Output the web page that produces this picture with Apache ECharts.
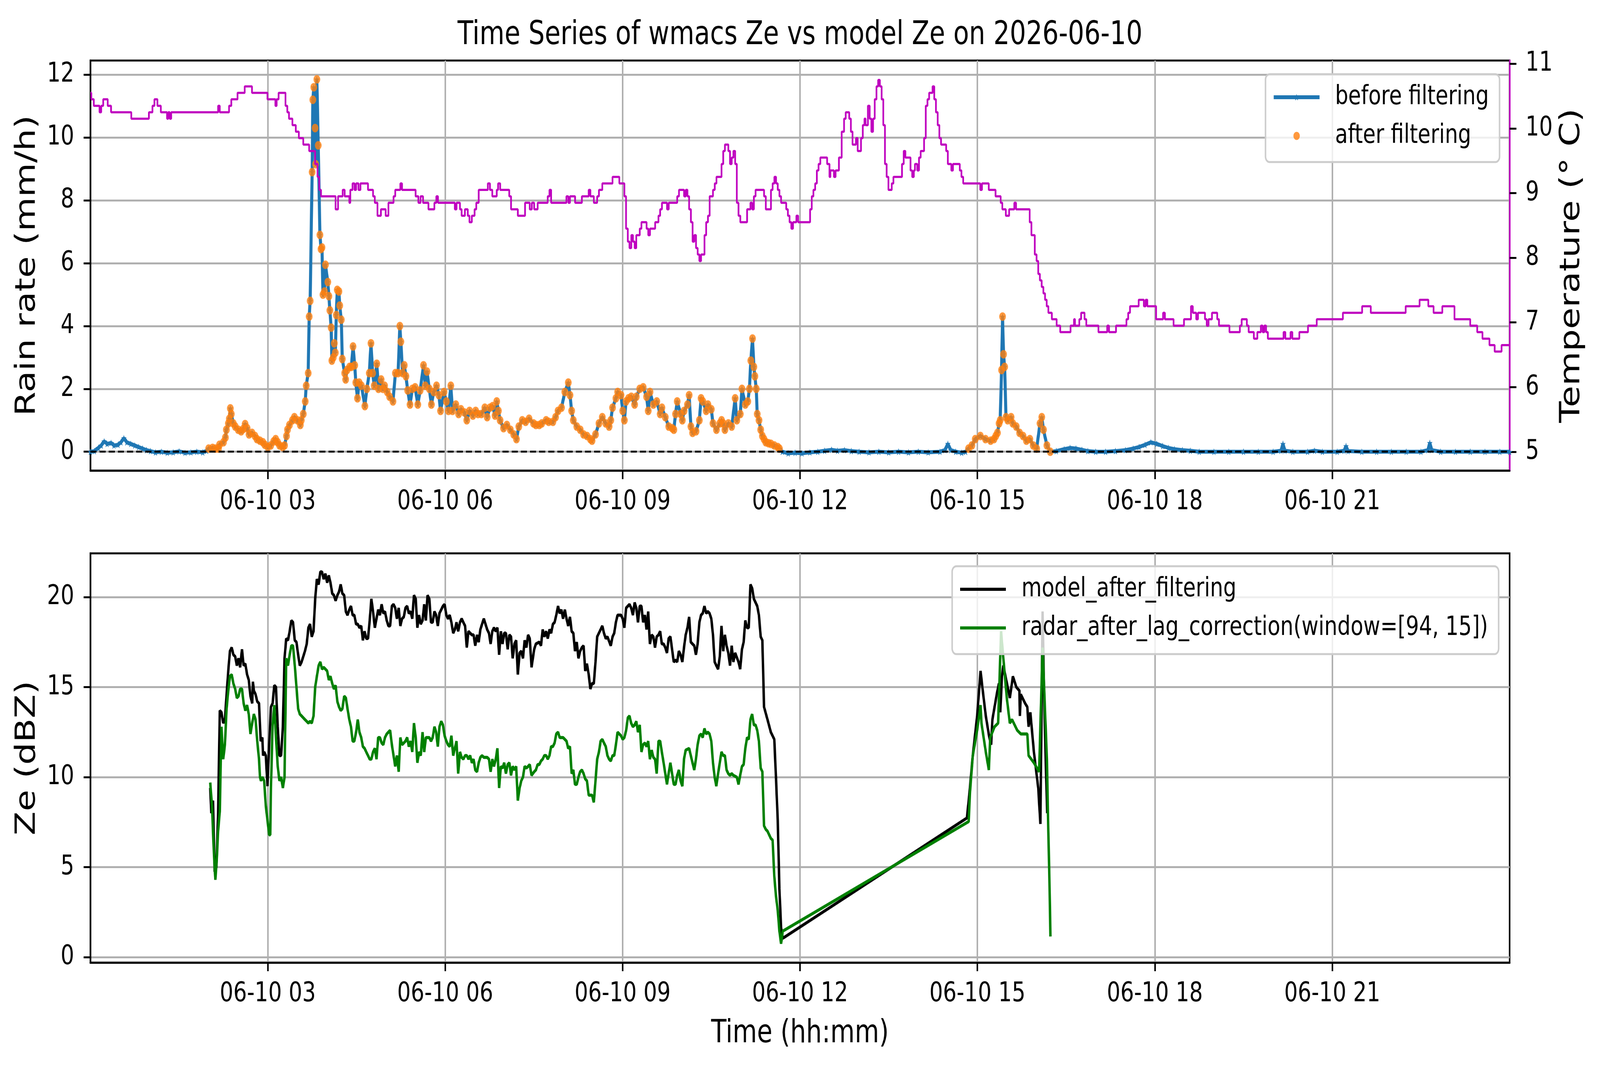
<!DOCTYPE html>
<html>
<head>
<meta charset="utf-8">
<title>Time Series of wmacs Ze vs model Ze</title>
<script src="https://cdn.jsdelivr.net/npm/echarts@6/dist/echarts.min.js"></script>
<style>
  html, body { margin: 0; padding: 0; background: #ffffff; overflow: hidden; }
  #chart { width: 5241px; height: 2740px; transform-origin: 0 0; }
</style>
</head>
<body>
<div id="chart"></div>
<script>
// times are minutes after 2026-06-10 00:00

const hourTicks = [3, 6, 9, 12, 15, 18, 21];
const rainTicks = [0, 2, 4, 6, 8, 10, 12];
const tempTicks = [5, 6, 7, 8, 9, 10, 11];
const zeTicks = [0, 5, 10, 15, 20];

// rain rate (mm/h), before filtering
const rainBefore = [
  [0,0.0],[4,0.02],[8,0.12],[11,0.2],[14,0.33],[17,0.25],[21,0.28],[24,0.2],[28,0.22],[31,0.3],[34,0.43],[37,0.3],[41,0.25],[45,0.2],[49,0.15],[53,0.1],[57,0.05],[61,0.02],[66,-0.02],[72,0.0],[78,-0.03],[84,-0.02],[90,0.01],[96,-0.03],[102,-0.02],[108,0.0],[114,-0.02],[118,0.03],
  [120,0.1],[124,0.12],[127,0.1],[130,0.1],[131,0.22],[135,0.3],[137,0.45],[138,0.7],[140,0.9],[141,1.05],[142,1.38],[143,1.2],[145,0.9],[147,0.8],[150,0.7],[153,0.65],[155,0.72],[157,0.88],[159,0.75],[161,0.55],[164,0.6],[167,0.5],[169,0.4],[172,0.35],[175,0.3],[177,0.22],[180,0.15],[183,0.2],[186,0.33],[188,0.4],[190,0.3],[192,0.2],[195,0.15],[197,0.2],[199,0.5],[200,0.7],[202,0.85],[205,1.0],[207,1.1],[210,1.0],[213,0.85],[214,1.0],[216,1.2],[218,1.6],[219,2.1],[221,2.5],[222,4.3],[223,4.8],
  [225,8.9],[225.7,11.2],[226.7,11.6],[228,10.3],[228.5,9.15],[229.8,11.85],[231.2,9.75],[232.9,6.9],[234,6.45],[235,6.5],[236,5.0],[237.5,5.1],[238.5,5.95],[240.9,5.4],[242,4.95],[243,4.5],[244.3,3.95],[245,2.9],[246.5,3.0],[247.5,3.45],[248.5,3.15],[249.5,4.35],[250.5,5.15],[252.2,5.1],[253,4.65],[254.6,4.2],[255.6,2.95],[258,2.5],[259,2.3],[260.4,2.6],[263,2.7],[264.8,2.7],[266.5,3.35],[268.2,2.75],[269.3,2.2],[271,1.7],[272.7,2.2],[275,2.1],[278.5,1.45],[280.5,2.0],[283,2.5],[284.7,3.45],[286.4,2.5],[288,2.1],[290.6,2.8],[292.3,2.0],[295,2.3],[296.8,2.0],[298.5,2.1],[301.2,1.9],[303.6,1.75],[307,1.6],[309.5,2.5],[312.2,2.5],[314,4.0],[315,3.5],[316.8,2.5],[318.5,2.75],[320.2,2.4],[321.9,1.95],[324.3,1.5],[326.7,2.0],[329.5,2.05],[332.2,1.5],[334.6,1.95],[338,2.75],[339.8,2.1],[341.5,2.55],[343.9,2.0],[346,1.5],[348.4,1.9],[351.2,2.1],[353.6,1.8],[355.3,1.3],[358.8,1.9],[361.2,1.6],[363.3,1.3],[365.7,2.1],[367.4,1.3],[370.8,1.5],[373.6,1.2],[376,1.35],[379.5,1.25],[381.9,1.0],[384.7,1.3],[388.1,1.15],[390.9,1.3],[393.3,1.2],[396.7,1.2],[400.2,1.4],[402.6,1.1],[405.4,1.4],[408.1,1.45],[410.6,1.15],[412.3,1.6],[414,1.3],[415.7,1.0],[419.2,0.75],[422.6,0.85],[426.1,0.7],[429.5,0.55],[432.3,0.4],[434.7,0.8],[438.2,1.0],[441.6,0.95],[445.1,1.05],[449.6,0.9],[452,0.85],[455.5,0.85],[458,0.9],[462.4,1.0],[465,0.95],[469.3,0.95],[472,1.1],[474.5,1.3],[478,1.4],[481.4,1.9],[484.9,2.2],[486.6,1.8],[488.3,1.3],[490,1.0],[493.5,0.8],[497,0.7],[500.4,0.55],[503.9,0.5],[507.3,0.4],[509,0.35],[512.5,0.55],[516,0.9],[519.4,1.1],[522.9,0.9],[526.3,0.8],[528,1.0],[529.8,1.4],[533.2,1.7],[535,1.9],[538.4,1.8],[540.1,1.3],[541.8,1.0],[543.5,1.6],[546,1.7],[548.8,1.75],[552.2,1.5],[553.9,1.75],[557.4,2.0],[560.9,2.05],[564.3,1.75],[566,1.3],[567.8,1.9],[571.2,1.5],[574.7,1.6],[578.1,1.2],[579.9,1.4],[583.3,1.1],[586.8,0.8],[590.3,0.75],[592,0.7],[593.7,1.2],[595.4,1.6],[598.9,1.2],[600.6,1.0],[602.4,1.3],[605.8,1.5],[607.5,1.8],[609.3,0.8],[611,0.6],[614.5,0.65],[617.9,1.0],[619.6,1.7],[621.4,1.6],[624.8,1.3],[626.6,1.5],[630,1.35],[631.7,0.9],[635.2,0.7],[638.6,0.9],[640.4,1.0],[642.1,0.9],[643.8,0.7],[647.3,0.9],[650.7,0.8],[654.2,1.7],[655.9,1.0],[659.4,1.2],[661.1,2.0],[664.5,1.5],[667,1.6],[668.7,2.0],[670.1,2.9],[671.8,3.6],[673.2,2.7],[674.2,2.4],[675.6,2.0],[676.6,1.2],[678.4,1.0],[680.1,0.7],[681.8,0.5],[683.5,0.4],[685.3,0.3],[688,0.27],[690.5,0.25],[693.9,0.2],[697.4,0.15],[699.1,0.1],
  [702,0.0],[708,-0.05],[715,-0.03],[722,-0.05],[730,-0.02],[738,0.0],[745,0.03],[752,0.06],[758,0.03],[765,0.05],[772,0.02],[780,0.0],[790,-0.02],[800,0.0],[810,-0.02],[820,0.0],[830,-0.02],[840,0.0],[850,-0.02],[862,0.0],[867,0.05],[870,0.25],[873,0.05],[878,0.0],[884,-0.03],[888,0.0],
  [891,0.1],[894.4,0.2],[897.8,0.4],[903,0.5],[908.2,0.4],[913.4,0.35],[916.8,0.4],[918.6,0.5],[920.3,0.6],[922,0.9],[923.1,1.0],[924.5,2.6],[925.5,4.3],[926.5,3.1],[927.6,2.7],[929,1.1],[930.7,1.0],[934.2,1.1],[935.9,0.9],[939.4,0.8],[942.8,0.6],[946.3,0.5],[949.7,0.35],[953.2,0.4],[956.6,0.2],[960.1,0.1],[963.5,0.9],[965.3,1.1],[967,0.7],[970.5,0.2],[973.9,0.0],
  [980,0.02],[988,0.08],[994,0.12],[1000,0.1],[1006,0.06],[1012,0.02],[1020,0.0],[1030,0.0],[1040,0.02],[1050,0.05],[1058,0.1],[1064,0.15],[1070,0.22],[1076,0.3],[1082,0.25],[1088,0.18],[1094,0.12],[1100,0.08],[1108,0.05],[1116,0.03],[1125,0.0],[1140,0.0],[1155,0.0],[1170,0.0],[1185,0.0],[1200,0.0],[1208,0.03],[1210,0.25],[1212,0.03],[1220,0.0],[1235,0.0],[1242,0.03],[1250,0.0],[1265,0.0],[1272,0.03],[1274,0.18],[1276,0.02],[1290,0.0],[1305,0.0],[1320,0.0],[1335,0.0],[1350,0.0],[1357,0.05],[1359,0.28],[1361,0.05],[1370,0.0],[1385,0.0],[1400,0.0],[1415,0.0],[1430,0.0],[1440,0.0]
];

// periods kept by the filter (minutes)
const filterWindows = [[120, 699.5], [890.5, 974]];

// temperature (deg C), each point = start of a new reading
const temperature = [
  [0,10.55],[1,10.45],[3.5,10.35],[9.3,10.25],[11,10.35],[13,10.45],[17.6,10.35],[21,10.25],[41.5,10.15],[59.4,10.25],[63,10.35],[65,10.45],[68,10.35],[71.5,10.25],[77.8,10.15],[79,10.25],[80.5,10.15],[82,10.25],[129.6,10.35],[131.3,10.25],[140.7,10.35],[143,10.45],[149.3,10.55],[156.6,10.65],[164,10.55],[179.7,10.45],[187.7,10.35],[189,10.45],[191,10.55],[198,10.35],[199.8,10.25],[201.5,10.15],[205,10.05],[208.4,9.95],[211.5,9.85],[216,9.75],[222,9.65],[228,9.45],[230.5,9.25],[232.2,9.05],[234,8.95],[248.8,8.75],[251.3,8.95],[256,9.05],[258,8.95],[262.7,8.85],[263.7,9.05],[266,9.15],[268,9.05],[269.6,9.15],[272,9.05],[274,9.15],[281.7,9.05],[286.8,8.95],[288.6,8.85],[291.3,8.65],[294.8,8.75],[299.6,8.65],[302.4,8.85],[307.6,8.95],[309.3,9.05],[314.5,9.15],[316.2,9.05],[330,8.95],[332.8,8.85],[335,8.95],[337.5,8.85],[343,8.75],[349,8.85],[351,8.95],[352.7,8.85],[369.8,8.75],[371.5,8.85],[375,8.75],[376.7,8.65],[380,8.75],[382.9,8.65],[384.6,8.55],[387,8.65],[389.8,8.75],[391.5,8.85],[394,9.05],[403.3,9.15],[405.4,9.05],[407.8,8.95],[412.3,9.05],[413.7,9.15],[415.8,9.05],[425,8.95],[426.8,8.75],[433.7,8.65],[441,8.85],[445.8,8.75],[447.9,8.85],[450.3,8.75],[453.8,8.85],[464,8.95],[465.8,9.05],[467.5,8.85],[483,8.95],[484.9,8.85],[486.6,8.95],[491.8,8.85],[498.7,8.95],[505.6,9.05],[507.3,8.95],[510.8,8.85],[514.2,8.95],[516,9.05],[519.4,9.15],[529.8,9.25],[536.7,9.15],[541.8,8.95],[543.5,8.45],[545.3,8.25],[547,8.15],[548.8,8.35],[550.5,8.25],[552.2,8.15],[553.9,8.35],[557.4,8.45],[559.1,8.55],[564.3,8.45],[566,8.35],[567.8,8.45],[573,8.55],[576.4,8.65],[578.1,8.75],[579.9,8.85],[585.1,8.75],[586.8,8.85],[595.4,8.95],[597.2,9.05],[602.4,8.95],[604.1,9.05],[605.8,8.95],[607.5,8.75],[609.3,8.55],[611,8.25],[612.7,8.35],[614.5,8.15],[616.2,8.05],[617.9,7.95],[619.6,8.05],[623.1,8.35],[624.8,8.55],[626.6,8.65],[628.3,8.95],[631.7,9.05],[633.5,9.15],[635.2,9.25],[640.4,9.45],[642.1,9.65],[643.8,9.75],[647.3,9.65],[649,9.45],[650.7,9.55],[652.4,9.65],[654.2,9.45],[655.9,8.85],[657.6,8.65],[659.4,8.55],[666.3,8.75],[669.7,8.85],[671.5,8.75],[673.2,8.95],[674.9,9.05],[683.5,8.95],[685.3,8.75],[690.5,9.05],[692.2,9.15],[694,9.25],[695.7,9.15],[697.4,9.05],[699.1,8.95],[700.8,8.85],[706,8.75],[707.7,8.65],[709.4,8.55],[711.2,8.45],[712.9,8.55],[716.3,8.65],[718.1,8.55],[730.2,8.75],[731.9,8.95],[733.6,9.05],[735.4,9.15],[737.1,9.35],[738.8,9.45],[740.6,9.55],[747.5,9.45],[749.9,9.25],[750.9,9.35],[754.4,9.25],[756.1,9.35],[759.5,9.55],[762.3,9.95],[764.7,10.15],[766.4,10.25],[769.9,10.15],[771.6,9.95],[773.3,9.75],[776.8,9.85],[778.5,9.65],[781.9,9.85],[783.7,10.05],[785.4,10.15],[786.5,10.05],[788.9,10.35],[790.7,10.15],[792.4,9.95],[794.1,10.15],[795.8,10.45],[797.6,10.65],[799.3,10.75],[801,10.65],[802.8,10.45],[804.5,10.05],[806.2,9.45],[807.9,9.25],[809.7,9.05],[813.1,9.15],[814.8,9.25],[823.5,9.45],[825.2,9.65],[826.9,9.55],[832.1,9.35],[833.8,9.25],[835.5,9.35],[836.6,9.45],[839,9.35],[840.7,9.55],[842.4,9.65],[845.9,9.85],[847.6,10.35],[849.3,10.45],[851,10.55],[854.5,10.65],[856.2,10.45],[857.9,10.25],[859.7,10.05],[861.4,9.85],[863.1,9.75],[868.3,9.65],[870,9.45],[873.5,9.35],[875.2,9.45],[882.1,9.35],[883.8,9.25],[885.6,9.15],[902.9,9.05],[904.6,9.15],[911.5,9.05],[918.4,8.95],[923.6,8.85],[925.3,8.75],[928.8,8.65],[932.2,8.75],[937.4,8.85],[939.2,8.75],[953,8.55],[954.8,8.35],[958.2,8.05],[960,7.95],[961.7,7.75],[963.4,7.65],[965.2,7.55],[966.9,7.45],[968.6,7.35],[970.3,7.25],[972,7.15],[975.5,7.05],[980.4,6.95],[984,6.85],[994.5,6.95],[998,7.05],[999,6.95],[1003.4,7.05],[1005.2,7.15],[1008.7,7.05],[1010.5,6.95],[1022.8,6.85],[1031.7,6.95],[1033.5,6.85],[1040.6,6.95],[1051.2,7.05],[1053,7.15],[1054.8,7.25],[1063.6,7.35],[1068.9,7.25],[1070.7,7.35],[1072.4,7.25],[1081.3,7.05],[1088.4,7.15],[1090.2,7.05],[1099,6.95],[1109.6,7.05],[1116.7,7.25],[1118.5,7.15],[1122,7.05],[1123.8,7.15],[1130.9,7.05],[1132.7,6.95],[1134.5,7.05],[1138,7.15],[1143.3,7.05],[1145.1,6.95],[1155.7,6.85],[1166.3,6.95],[1168.1,7.05],[1173.4,6.95],[1175.2,6.85],[1180.5,6.75],[1184,6.85],[1187.6,6.95],[1189.4,6.85],[1191.1,6.95],[1192.9,6.85],[1194.7,6.75],[1210.6,6.85],[1212.4,6.75],[1217.7,6.85],[1219.5,6.75],[1226.6,6.85],[1235.4,6.95],[1244.3,7.05],[1270.8,7.15],[1290.3,7.25],[1299.1,7.15],[1334.5,7.25],[1348.6,7.35],[1357.5,7.25],[1362.8,7.15],[1371.7,7.25],[1384,7.05],[1400,6.95],[1407.1,6.85],[1412.4,6.75],[1419.5,6.65],[1424.8,6.55],[1431.8,6.65],[1440,6.65]
];

// model Ze after filtering (dBZ)
const modelZe = [
  [121.6,9.4],[122.7,8.0],[124.4,8.7],[126.1,4.75],[127.9,5.0],[129.6,8.0],[131.3,13.7],[133,13.6],[134.8,13.0],[136.5,13.2],[138.2,14.6],[139.9,15.9],[141.6,17.0],[143.4,17.2],[145.1,16.8],[146.9,16.7],[148.6,16.2],[150.3,16.6],[152,16.1],[153.8,17.1],[155.5,16.2],[157.2,16.3],[159,15.7],[160.7,15.4],[162.4,14.5],[164.2,14.1],[164.9,15.3],[165.9,14.8],[167.6,14.6],[169.3,14.2],[171.1,14.1],[172.8,12.0],[174.5,12.2],[175.2,11.2],[176.3,11.4],[178,11.2],[179.7,9.5],[181.4,11.8],[183.2,13.9],[184.9,14.1],[186.6,15.1],[188.3,15.0],[190.1,12.8],[191.8,11.2],[193.5,11.2],[195.3,12.8],[197,16.6],[198.7,17.7],[200.5,17.6],[202.2,18.1],[203.9,18.7],[205.6,18.6],[207.4,17.6],[209.1,17.5],[210.8,16.8],[212.5,16.2],[214.3,16.4],[216,16.7],[217.7,17.0],[219.5,17.4],[221.2,18.3],[222.9,18.5],[224.6,17.8],[226.4,18.1],[228.1,19.9],[229.8,21.0],[231.6,20.7],[233.3,21.4],[235,21.4],[236.7,21.0],[238.5,21.3],[240.2,20.8],[241.9,21.2],[243.6,20.8],[245.4,20.2],[247.1,20.1],[248.8,19.8],[250.6,20.1],[252.3,20.3],[254,20.7],[255.7,20.2],[257.5,20.1],[259.2,19.2],[260.9,19.0],[262.7,19.3],[264.4,19.5],[266.1,19.0],[267.8,19.0],[269.6,18.5],[271.3,18.5],[273,18.3],[274.8,18.4],[276.5,17.6],[278.2,18.1],[279.9,17.7],[281.7,17.7],[283.4,18.7],[285.1,19.9],[286.8,19.2],[288.6,18.3],[290.3,18.8],[292,19.3],[293.8,19.0],[295.5,19.6],[297.2,19.1],[298.9,19.2],[300.7,18.7],[302.4,18.4],[304.1,18.4],[305.9,19.5],[307.6,19.6],[309.3,19.4],[311,18.8],[312.8,19.4],[314.5,18.4],[316.2,18.8],[318,18.9],[319.7,19.4],[321.4,19.5],[323.1,19.1],[324.9,19.2],[326.6,18.8],[328.3,20.1],[330.1,19.9],[331.8,18.3],[333.5,19.0],[335.2,18.5],[337,18.7],[338.7,19.6],[340.4,18.7],[342.1,20.1],[343.9,19.9],[345.6,18.6],[347.3,18.6],[349.1,19.2],[350.8,19.0],[352.5,18.4],[354.2,19.1],[357.7,19.5],[359.4,19.6],[361.2,19.0],[362.9,18.8],[364.6,19.0],[366.3,18.6],[368.1,18.0],[369.8,18.2],[371.5,18.6],[373.2,18.1],[375,18.6],[376.7,18.8],[378.4,18.6],[380.2,18.4],[381.9,17.2],[383.6,18.1],[385.3,18.0],[387.1,17.9],[388.8,17.9],[390.5,17.3],[392.3,17.9],[394,17.5],[395.7,18.2],[397.4,18.5],[399.2,18.8],[400.9,18.5],[402.6,18.2],[404.4,18.0],[406.1,17.4],[407.8,18.1],[409.5,18.3],[411.3,18.1],[413,18.3],[414.7,16.8],[416.5,18.1],[418.2,17.4],[419.9,18.0],[421.6,18.0],[423.4,17.1],[425.1,17.9],[426.8,17.8],[428.5,16.6],[430.3,17.4],[432,17.6],[433.7,15.7],[435.5,16.9],[437.2,17.0],[438.9,16.6],[440.6,17.6],[442.4,17.2],[444.1,17.9],[445.8,17.7],[447.6,16.1],[450.3,17.1],[452,17.4],[455.5,17.5],[457.2,17.3],[458.9,18.2],[460.6,17.8],[462.4,18.1],[464.1,17.7],[465.8,18.2],[467.5,18.0],[469.3,18.5],[471,18.6],[472.7,19.0],[474.5,19.5],[476.2,19.1],[477.9,19.3],[479.6,18.8],[481.4,19.3],[483.1,18.8],[484.8,18.4],[486.6,18.9],[488.3,18.1],[490,18.0],[491.7,17.0],[493.5,17.5],[495.2,16.6],[496.9,17.0],[498.7,17.2],[500.4,17.3],[502.1,15.9],[503.8,16.3],[505.6,15.7],[507.3,14.9],[509,15.2],[510.8,15.2],[512.5,16.4],[514.2,17.8],[517.7,18.2],[519.4,18.4],[521.1,18.0],[522.9,17.7],[524.6,17.8],[528,17.3],[529.8,17.8],[531.5,18.0],[533.2,18.6],[534.9,19.0],[538.4,19.0],[540.1,18.8],[541.8,18.3],[543.6,19.4],[545.3,19.5],[547,19.6],[548.7,19.4],[550.5,19.0],[552.2,19.7],[553.9,19.4],[555.6,18.6],[557.4,19.5],[559.1,19.5],[560.8,18.6],[562.6,19.0],[564.3,18.2],[566,19.2],[567.7,17.4],[569.5,17.9],[571.2,17.8],[572.9,17.2],[574.6,17.8],[576.4,17.9],[578.1,18.1],[579.8,17.4],[581.6,17.4],[583.3,17.2],[585,16.9],[586.7,17.7],[588.5,17.8],[590.2,17.1],[591.9,16.4],[593.7,16.5],[595.4,16.4],[597.1,17.0],[598.8,16.8],[600.6,16.4],[602.3,17.2],[604,17.9],[605.8,18.3],[607.5,18.9],[609.2,17.5],[610.9,17.4],[612.7,17.3],[614.4,16.8],[616.1,17.4],[617.9,18.6],[619.6,19.0],[621.3,19.1],[623,19.5],[624.8,19.1],[626.5,19.2],[628.2,19.1],[630,18.8],[631.7,17.9],[633.4,16.4],[635.1,16.2],[636.9,16.0],[638.6,16.7],[640.3,18.4],[642.1,17.0],[643.8,17.9],[645.5,17.3],[647.2,16.9],[649,16.2],[650.7,17.3],[652.4,16.4],[654.2,16.9],[657.6,16.4],[659.3,16.0],[661.1,17.1],[662.8,17.5],[664.5,18.7],[666.3,18.3],[668,18.3],[669.7,20.7],[671.4,20.5],[673.2,19.9],[676.6,19.5],[678.3,19.0],[680.1,17.8],[681.8,17.6],[683.5,13.9],[687,13.2],[690.4,12.5],[693.9,12.1],[695.6,10.0],[697.4,7.6],[699.1,3.8],[700.8,1.65],[702.5,1.05],
  [889.3,7.73],[891.7,9.0],[895.3,11.2],[899.7,13.4],[903.2,15.9],[905,15.0],[908.5,13.4],[912.1,12.2],[913.9,11.8],[915.2,13.2],[919.6,14.6],[921.8,15.2],[923.2,13.6],[924.9,15.6],[926.3,16.2],[928.5,15.6],[932.9,14.4],[936,15.6],[939.5,15.0],[942.6,14.8],[943.1,13.4],[944,14.6],[948.4,14.1],[950.6,13.9],[951.9,12.8],[953.7,13.6],[957.3,11.4],[961.7,9.4],[963.9,7.4],[966.1,19.2],[967.6,14.8],[969,11.5],[970.8,8.0]
];

// radar Ze after lag correction (dBZ)
const radarZe = [
  [121.6,9.7],[123.4,8.4],[124.4,7.0],[125.5,5.6],[126.8,4.3],[128.2,5.4],[129.6,7.0],[131.3,8.1],[133,12.8],[134.8,11.0],[136.5,11.8],[138.2,13.8],[139.9,14.8],[141.6,15.6],[143.4,15.7],[145.1,15.2],[146.9,14.9],[148.6,14.4],[150.3,14.5],[152,14.9],[153.8,14.9],[155.5,14.1],[157.2,13.7],[159,14.0],[160.7,13.5],[162.4,12.4],[164.2,13.0],[165.9,13.5],[167.6,13.2],[169.3,12.0],[171.1,11.0],[172.1,10.0],[173.1,9.8],[174.5,10.0],[176.3,9.8],[178,8.4],[179.7,7.6],[181.4,6.8],[182.5,6.8],[183.2,9.4],[184.9,12.9],[186.6,14.0],[188.3,12.2],[190.1,10.6],[191.8,9.8],[193.5,10.0],[195.3,9.4],[197,10.0],[198.7,16.6],[200.5,16.2],[202.2,16.8],[203.9,17.3],[205.6,17.3],[207.4,16.2],[209.1,15.0],[210.8,13.8],[212.5,13.5],[214.3,13.4],[216,13.3],[217.7,13.2],[219.5,13.1],[221.2,13.0],[222.9,13.1],[224.6,13.0],[226.4,13.4],[228.1,15.0],[229.8,15.6],[231.6,16.2],[233.3,16.4],[235,16.0],[236.7,16.1],[238.5,16.0],[240.2,15.9],[241.9,15.4],[243.6,15.6],[245.4,15.2],[247.1,14.9],[248.8,15.1],[250.6,14.2],[252.3,13.9],[254,13.7],[255.7,13.8],[257.5,14.5],[259.2,14.4],[260.9,13.8],[262.7,13.2],[264.4,12.8],[266.1,12.0],[267.8,12.0],[269.6,12.5],[271.3,13.2],[273,12.5],[274.8,12.2],[276.5,11.7],[278.2,11.6],[279.9,11.4],[281.7,11.2],[283.4,11.0],[285.1,11.0],[286.8,11.4],[288.6,11.6],[290.3,11.0],[292,12.2],[293.8,12.2],[295.5,11.9],[297.2,11.8],[298.9,12.2],[300.7,12.4],[302.4,12.5],[304.1,12.6],[305.9,11.8],[307.6,11.2],[309.3,10.6],[311,11.2],[312.8,10.3],[314.5,12.2],[316.2,11.8],[318,11.9],[319.7,12.0],[321.4,12.2],[323.1,11.7],[324.9,12.0],[326.6,11.4],[328.3,13.0],[330.1,12.2],[331.8,10.8],[333.5,11.4],[335.2,11.2],[337,12.5],[338.7,11.4],[340.4,12.2],[342.1,12.2],[343.9,12.2],[345.6,12.0],[347.3,12.2],[349.1,12.8],[350.8,12.5],[352.5,11.7],[354.2,12.8],[356,13.1],[357.7,12.9],[359.4,12.3],[361.2,12.0],[362.9,11.8],[364.6,11.7],[366.3,12.3],[368.1,11.2],[369.8,11.6],[371.5,12.0],[373.2,10.2],[375,11.4],[376.7,11.1],[378.4,11.0],[380.2,11.2],[381.9,11.2],[383.6,11.0],[385.3,11.2],[387.1,10.8],[388.8,11.0],[390.5,10.4],[392.3,10.3],[394,10.8],[395.7,11.1],[397.4,11.2],[399.2,11.1],[400.9,11.1],[402.6,11.1],[404.4,11.0],[406.1,10.3],[407.8,11.0],[409.5,10.6],[411.3,11.0],[413,11.6],[414.7,9.4],[416.5,10.6],[418.2,10.5],[419.9,10.8],[421.6,10.2],[423.4,10.7],[425.1,10.8],[426.8,10.1],[428.5,10.6],[430.3,10.4],[432,10.6],[433.7,8.7],[435.5,9.4],[437.2,9.8],[438.9,10.0],[440.6,10.6],[442.4,10.5],[444.1,10.6],[445.8,10.7],[447.6,10.1],[450.3,10.3],[452,10.4],[453.8,10.7],[455.5,10.7],[457.2,10.9],[458.9,11.0],[460.6,11.2],[462.4,11.2],[464.1,11.0],[465.8,11.2],[467.5,11.7],[469.3,11.7],[471,11.9],[472.7,12.4],[474.5,12.5],[476.2,12.2],[479.6,12.2],[483.1,12.0],[484.8,11.6],[486.6,11.7],[488.3,10.2],[490,10.4],[491.7,9.6],[493.5,9.6],[495.2,10.0],[496.9,10.3],[498.7,10.4],[500.4,10.2],[502.1,9.9],[503.8,9.8],[505.6,9.0],[509,9.0],[510.8,8.6],[512.5,9.8],[514.2,11.0],[516,11.4],[517.7,12.0],[519.4,12.1],[521.1,11.9],[522.9,11.7],[524.6,11.2],[526.3,11.0],[528,10.9],[529.8,11.2],[531.5,11.2],[533.2,11.8],[534.9,12.5],[538.4,12.3],[540.1,12.1],[541.8,12.2],[543.6,12.6],[545.3,13.3],[547,13.4],[548.7,13.0],[550.5,12.8],[552.2,12.9],[553.9,13.1],[555.6,12.5],[557.4,12.9],[559.1,11.4],[560.8,11.8],[562.6,11.9],[564.3,11.7],[566,12.0],[567.7,11.0],[569.5,11.5],[571.2,11.1],[572.9,11.0],[574.6,10.2],[576.4,12.0],[578.1,12.0],[579.8,11.4],[581.6,10.8],[583.3,10.2],[585,9.6],[586.7,10.2],[588.5,10.8],[590.2,10.2],[591.9,9.6],[593.7,9.6],[595.4,10.1],[597.1,10.4],[598.8,9.8],[600.6,9.5],[602.3,11.0],[604,11.5],[607.5,11.6],[609.2,11.2],[610.9,10.8],[612.7,10.4],[614.4,11.0],[616.1,11.8],[617.9,12.3],[619.6,12.4],[621.3,12.2],[623,12.7],[624.8,12.4],[626.5,12.5],[628.2,12.4],[630,12.0],[631.7,10.8],[633.4,10.0],[635.1,9.5],[636.9,10.2],[638.6,10.8],[640.3,11.4],[642.1,11.2],[643.8,11.2],[645.5,10.4],[647.2,10.2],[649,10.1],[650.7,10.2],[652.4,10.1],[655.9,10.0],[657.6,9.6],[659.3,10.1],[661.1,10.6],[662.8,10.7],[664.5,11.6],[666.3,12.2],[668,12.1],[669.7,13.2],[671.4,13.5],[673.2,12.9],[674.9,12.9],[676.6,12.6],[678.3,12.0],[680.1,10.5],[681.8,10.3],[683.5,7.3],[685.3,7.1],[687,7.0],[688.7,6.8],[690.4,6.6],[692.2,6.5],[693.9,4.5],[695.6,3.4],[697.4,2.6],[699.1,1.45],[700.8,0.75],[702.5,1.45],
  [891.1,7.53],[892.5,9.2],[895.3,11.2],[899.7,12.6],[903.2,14.0],[904.1,13.0],[908.5,11.4],[911.6,10.4],[913,12.2],[917.4,12.8],[921,13.0],[924,18.1],[926.3,16.6],[929.8,14.4],[932.9,13.0],[935.1,13.2],[940.4,12.6],[944,12.4],[950.6,12.4],[951.9,11.2],[957.3,10.8],[962.6,10.3],[966.1,17.2],[970.5,11.0],[971.9,7.0],[972.8,5.0],[974.1,1.15]
];

const FONT = 'DejaVu Sans';
const GRID_GRAY = '#b0b0b0';

// the chart is laid out at 5241 x 2740; if the window is a different size
// the whole picture is stretched to fill it
const container = document.getElementById('chart');
container.style.transform = 'scale(' + (window.innerWidth / 5241) + ',' + (window.innerHeight / 2740) + ')';

const rainAfter = rainBefore.filter(p =>
  filterWindows.some(w => p[0] >= w[0] && p[0] <= w[1]));

const tickMinutes = hourTicks.map(h => h * 60);

function hourLabel(v) {
  return '06-10 ' + String(Math.round(v / 60)).padStart(2, '0');
}

function timeAxis(gridIndex, extra) {
  return Object.assign({
    type: 'value',
    gridIndex: gridIndex,
    min: 0,
    max: 1440,
    axisLine: { show: true, onZero: false, lineStyle: { color: '#000', width: 5 } },
    axisTick: { show: true, length: 22, customValues: tickMinutes, lineStyle: { color: '#000', width: 5 } },
    axisLabel: { customValues: tickMinutes, formatter: hourLabel, fontSize: 70, fontFamily: FONT, color: '#000', margin: 46 },
    splitLine: { show: true, lineStyle: { color: GRID_GRAY, width: 5 } }
  }, extra || {});
}

function valueAxis(extra, ticks, labelMargin) {
  return Object.assign({
    type: 'value',
    nameLocation: 'middle',
    nameRotate: 90,
    nameGap: 160,
    nameTextStyle: { fontSize: 90, fontFamily: FONT, color: '#000' },
    axisLine: { show: true, onZero: false, lineStyle: { color: '#000', width: 5 } },
    axisTick: { show: true, length: 22, customValues: ticks, lineStyle: { color: '#000', width: 5 } },
    axisLabel: { customValues: ticks, fontSize: 70, fontFamily: FONT, color: '#000', margin: labelMargin },
    splitLine: { show: true, lineStyle: { color: GRID_GRAY, width: 5 } }
  }, extra);
}

function legendAt(names, right, top, iconHeight, lineWidth) {
  return {
    data: names,
    right: right,
    top: top,
    orient: 'vertical',
    selectedMode: false,
    itemWidth: 150,
    itemHeight: iconHeight,
    itemGap: 31,
    padding: [25, 35, 33, 22],
    backgroundColor: 'rgba(255,255,255,0.8)',
    borderColor: '#cccccc',
    borderWidth: 5,
    borderRadius: 14,
    lineStyle: { width: lineWidth },
    textStyle: { fontSize: 68, lineHeight: 68, fontFamily: FONT, color: '#000', padding: [0, 0, 0, 46] }
  };
}

const chart = echarts.init(container, null, { width: 5241, height: 2740 });

const option = {
  animation: false,
  backgroundColor: '#ffffff',
  title: {
    text: 'Time Series of wmacs Ze vs model Ze on 2026-06-10',
    left: 'center',
    top: 44,
    textStyle: { fontSize: 84, fontWeight: 'normal', fontFamily: FONT, color: '#000' }
  },
  legend: [
    legendAt(['before filtering', 'after filtering'], 329, 190, 21, 10),
    legendAt(['model_after_filtering', 'radar_after_lag_correction(window=[94, 15])'], 332, 1450, 7, 8)
  ],
  grid: [
    { left: 296, right: 296, top: 155, height: 1050, show: true, borderColor: '#000', borderWidth: 5, outerBoundsMode: 'none' },
    { left: 296, right: 296, top: 1417, height: 1048, show: true, borderColor: '#000', borderWidth: 5, outerBoundsMode: 'none' }
  ],
  xAxis: [
    timeAxis(0),
    timeAxis(1, {
      name: 'Time (hh:mm)',
      nameLocation: 'middle',
      nameGap: 142,
      nameTextStyle: { fontSize: 82, fontFamily: FONT, color: '#000' }
    })
  ],
  yAxis: [
    valueAxis({ gridIndex: 0, position: 'left', min: -0.6, max: 12.45, name: 'Rain rate (mm/h)' }, rainTicks, 53),
    valueAxis({
      gridIndex: 0, position: 'right', min: 4.71, max: 11.05, name: 'Temperature (° C)',
      axisLine: { show: true, onZero: false, lineStyle: { color: '#bf00bf', width: 5 } },
      splitLine: { show: false }
    }, tempTicks, 52),
    valueAxis({ gridIndex: 1, position: 'left', min: -0.3, max: 22.43, name: 'Ze (dBZ)' }, zeTicks, 53)
  ],
  series: [
    {
      name: 'before filtering',
      type: 'line',
      xAxisIndex: 0,
      yAxisIndex: 0,
      data: rainBefore,
      symbol: 'path://M50,0 L61,35 L98,35 L68,57 L79,91 L50,70 L21,91 L32,57 L2,35 L39,35 Z',
      symbolSize: 18,
      showSymbol: true,
      showAllSymbol: true,
      color: '#1f77b4',
      itemStyle: { color: '#1f77b4' },
      lineStyle: { color: '#1f77b4', width: 10 },
      z: 2
    },
    {
      name: 'after filtering',
      type: 'scatter',
      xAxisIndex: 0,
      yAxisIndex: 0,
      data: rainAfter,
      symbol: 'circle',
      symbolSize: 22,
      itemStyle: { color: '#ff7f0e' },
      z: 3,
      markLine: {
        silent: true,
        symbol: ['none', 'none'],
        label: { show: false },
        lineStyle: { color: '#000', width: 5, type: [20, 10] },
        data: [{ yAxis: 0 }]
      }
    },
    {
      name: 'Temperature',
      type: 'line',
      xAxisIndex: 0,
      yAxisIndex: 1,
      data: temperature,
      step: 'end',
      symbol: 'none',
      color: '#bf00bf',
      lineStyle: { color: '#bf00bf', width: 5.5 },
      z: 4
    },
    {
      name: 'model_after_filtering',
      type: 'line',
      xAxisIndex: 1,
      yAxisIndex: 2,
      data: modelZe,
      symbol: 'none',
      color: '#000000',
      lineStyle: { color: '#000000', width: 8 },
      z: 2
    },
    {
      name: 'radar_after_lag_correction(window=[94, 15])',
      type: 'line',
      xAxisIndex: 1,
      yAxisIndex: 2,
      data: radarZe,
      symbol: 'none',
      color: '#008000',
      lineStyle: { color: '#008000', width: 8 },
      z: 3
    }
  ]
};

chart.setOption(option);
</script>
</body>
</html>
